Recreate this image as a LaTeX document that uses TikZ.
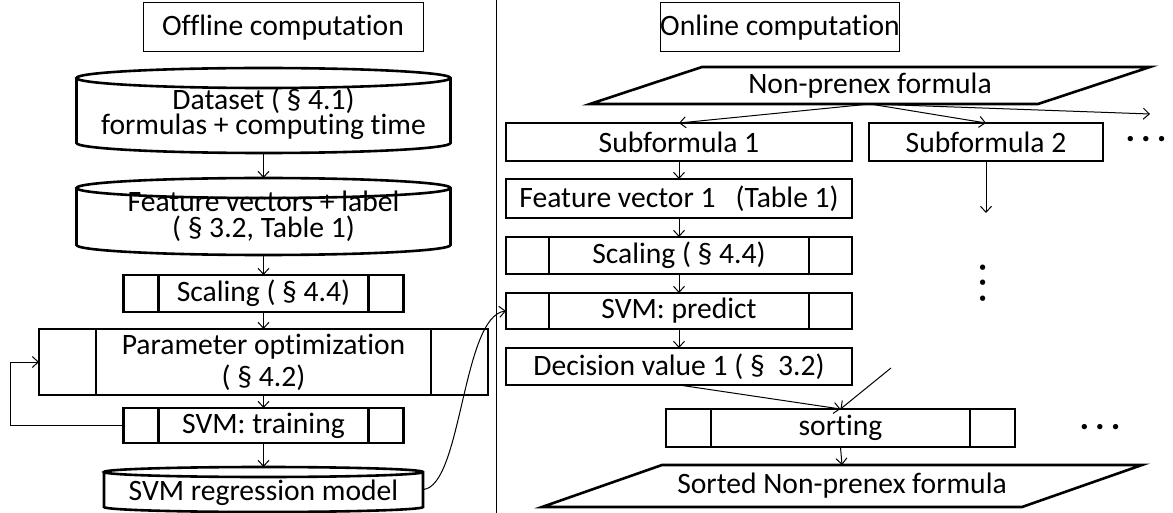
\documentclass[tikz,border=0pt]{standalone}
\usepackage{fontspec}
\setmainfont{Carlito}[Ligatures=NoCommon]
\usetikzlibrary{arrows.meta,calc}
\lineskiplimit=-100pt
\tikzset{
  every node/.style={font=\fontsize{29.6}{25.5}\selectfont, inner sep=0pt, outer sep=0pt},
  thinbox/.style={draw, line width=1pt},
  box/.style={draw, line width=2.6pt},
  proc/.style={box, path picture={\draw[line width=2.6pt]
      ([xshift=#1]path picture bounding box.north west) -- ([xshift=#1]path picture bounding box.south west)
      ([xshift=-#1]path picture bounding box.north east) -- ([xshift=-#1]path picture bounding box.south east);}},
  arr/.style={-{Straight Barb[length=6pt,width=11pt]}, line width=1pt},
  thinline/.style={line width=1pt},
  dotsnode/.style={anchor=base, font=\fontsize{36}{36}\selectfont\bfseries},
}
\newcommand\cylout[2]{%
  \draw[line width=2.6pt] let \p1=(#1.north west), \p2=(#1.south east), \n1={(\x2-\x1)/2} in
    (\x1,\y1-#2pt) -- (\x1,\y2+#2pt)
    arc[start angle=180,end angle=360,x radius={\n1*1pt},y radius=#2pt]
    -- (\x2,\y1-#2pt)
    arc[start angle=0,end angle=180,x radius={\n1*1pt},y radius=#2pt]
    arc[start angle=180,end angle=360,x radius={\n1*1pt},y radius=#2pt];}
\newcommand\paraout[2]{%
  \draw[line width=2.6pt,line join=miter] ([xshift=#2]#1.north west) -- (#1.north east)
    -- ([xshift=-#2]#1.south east) -- (#1.south west) -- cycle;}
\begin{document}
\begin{tikzpicture}[x=1pt,y=-1pt]
\useasboundingbox (0,0) rectangle (1173,513);
% separator
\coordinate (septop) at (496,0);
\coordinate (sepbot) at (496,513);
\draw[thinline] (septop) -- (sepbot);

% ---------- offline ----------
\node[thinbox, minimum width=280pt, minimum height=49pt] (off) at (283,27.5) {Offline computation};

\node[minimum width=374pt, minimum height=85pt,
  label={[align=center,yshift=-3pt]center:{Dataset ( § 4.1)\\formulas + computing time}}] (ds) at (263.5,110.5) {};
\cylout{ds}{10}
\node[minimum width=374pt, minimum height=77pt,
  label={[align=center,yshift=0pt]center:{Feature vectors + label\\( § 3.2, Table 1)}}] (fv) at (263.5,216.5) {};
\cylout{fv}{10}

\node[proc=35pt, minimum width=280pt, minimum height=37pt] (sc1) at (263.5,293.5) {Scaling ( § 4.4)};
\node[proc=57pt, minimum width=449pt, minimum height=66pt, align=center,
  font=\fontsize{29.6}{32}\selectfont] (par) at (263.5,362) {Parameter optimization\\( § 4.2)};
\node[proc=35pt, minimum width=280pt, minimum height=35pt] (svt) at (263.5,425.5) {SVM: training};

\node[minimum width=319pt, minimum height=45pt,
  label={[yshift=-3pt]center:{SVM regression model}}] (reg) at (263.5,489.5) {};
\cylout{reg}{5}

\draw[arr] (ds.south) -- (fv.north);
\draw[arr] (fv.south) -- (sc1.north);
\draw[arr] (sc1.south) -- (par.north);
\draw[arr] (par.south) -- (svt.north);
\draw[arr] (svt.south) -- (reg.north);
\coordinate (lp) at (10,425.5);
\draw[arr] (svt.west) -- (lp) |- (par.west);

% ---------- online ----------
\node[thinbox, minimum width=214pt, minimum height=49pt] (on) at (780,27.5) {Online computation};

\node[minimum width=560pt, minimum height=37pt] (np) at (870,85.5) {Non-prenex formula};
\paraout{np}{112pt}

\node[box, minimum width=346pt, minimum height=38pt] (sf1) at (679,142) {Subformula 1};
\node[box, minimum width=234pt, minimum height=38pt] (sf2) at (986,142) {Subformula 2};
\node[dotsnode] (dots1) at (1146,141.5) {.\,.\,.};
\coordinate (more) at (1150,114);
\coordinate (sf2end) at (986,213);

\node[box, minimum width=346pt, minimum height=39pt] (fv1) at (679,198.5) {Feature vector 1\ \ \ (Table 1)};
\node[proc=43pt, minimum width=346pt, minimum height=37pt] (sc2) at (679,255.5) {Scaling ( § 4.4)};
\node[proc=43pt, minimum width=346pt, minimum height=36pt] (svp) at (679,311) {SVM: predict};
\node[box, minimum width=346pt, minimum height=37pt] (dv) at (679,366.5) {Decision value 1 ( §\ \ 3.2)};
\node[dotsnode, rotate=90] (dots2) at (985.5,283) {.\,.\,.};

\node[proc=45pt, minimum width=349pt, minimum height=38pt] (so) at (840.5,428) {sorting};
\node[dotsnode] (dots3) at (1100,429.5) {.\,.\,.};
\coordinate (diag) at (891,368);

\node[minimum width=600pt, minimum height=42pt] (sorted) at (842,486) {Sorted Non-prenex formula};
\paraout{sorted}{120pt}

\draw[arr] (np.south) -- (sf1.north);
\draw[arr] (np.south) -- (sf2.north);
\draw[arr] (np.south) -- (more);
\draw[arr] (sf2.south) -- (sf2end);
\draw[arr] (sf1.south) -- (fv1.north);
\draw[arr] (fv1.south) -- (sc2.north);
\draw[arr] (sc2.south) -- (svp.north);
\draw[arr] (svp.south) -- (dv.north);
\draw[arr] (dv.south) -- (so.north);
\draw[arr] (diag) -- (so.north);
\draw[arr] (so.south) -- (sorted.north);

% model to predict
\draw[arr] (reg.east) .. controls (462,487) and (462,316) .. (svp.west);
\end{tikzpicture}
\end{document}
